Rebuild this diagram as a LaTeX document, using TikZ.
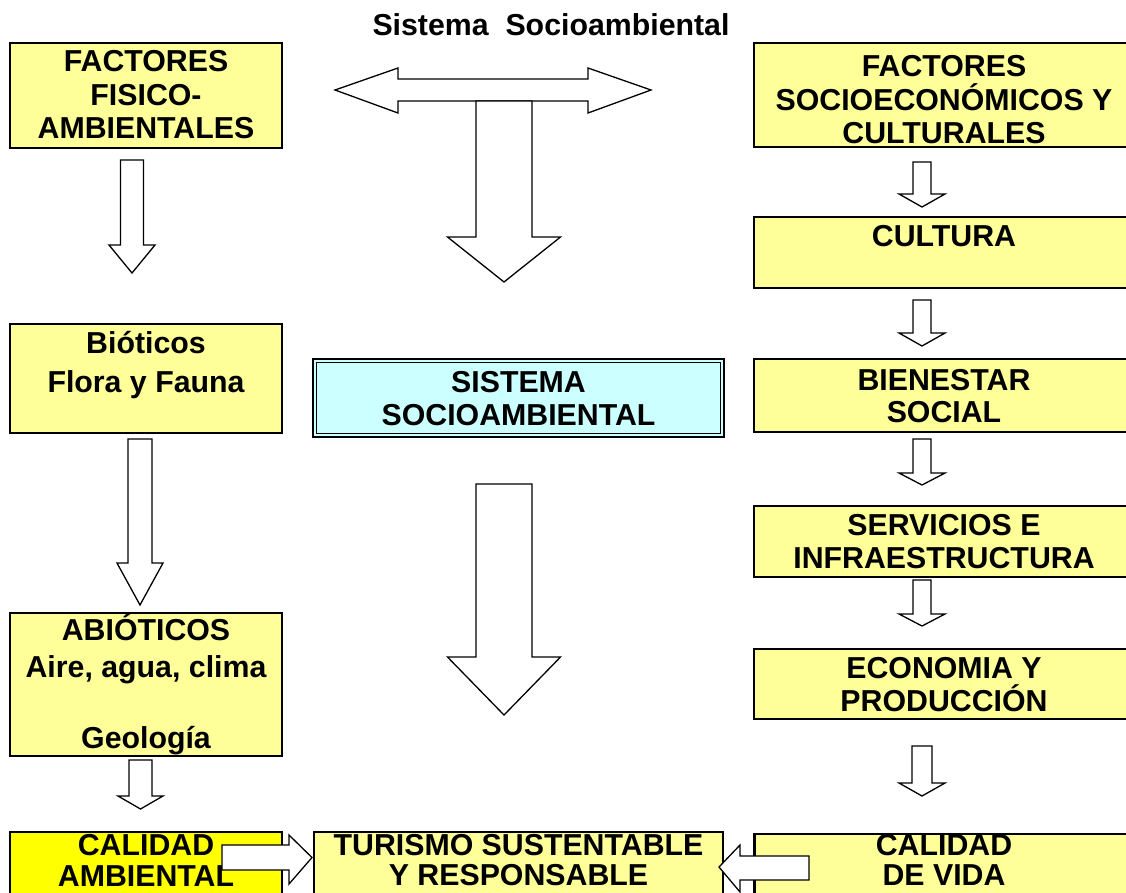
\documentclass[tikz,border=0pt]{standalone}
\usepackage{fontspec}
\setmainfont{Liberation Sans}
\definecolor{ylw}{HTML}{FFFF99}
\definecolor{brightylw}{HTML}{FFFF00}
\definecolor{lcyan}{HTML}{CCFFFF}
\tikzset{
  box/.style={draw, line width=2.6pt, fill=ylw, inner sep=0pt, outer sep=0pt},
  txt/.style={font=\bfseries\fontsize{30.3}{34}\selectfont, anchor=base, inner sep=0pt},
  arr/.style={draw, line width=1.3pt, fill=white, line join=miter},
}
% center x, shaft half width, head half width, top y, head base y, tip y
\newcommand\blockdown[6]{%
  \draw[arr] (#1-#2,#4) -- (#1+#2,#4) -- (#1+#2,#5) -- (#1+#3,#5) -- (#1,#6)
    -- (#1-#3,#5) -- (#1-#2,#5) -- cycle;}
\begin{document}
\begin{tikzpicture}[x=1pt,y=-1pt]
\useasboundingbox (0,0) rectangle (1126,892);
\clip (0,0) rectangle (1126,892);

% title
\node[txt] (title) at (551,35) {Sistema\ \ Socioambiental};

% boxes
\node[box, minimum width=272pt, minimum height=105pt] (fis) at (146,95.5) {};
\node[box, minimum width=380pt, minimum height=104pt] (soc) at (944,95) {};
\node[box, minimum width=380pt, minimum height=71pt] (cul) at (944,252.5) {};
\node[box, minimum width=272pt, minimum height=109pt] (bio) at (146,378.5) {};
\node[draw, line width=2.6pt, fill=lcyan, minimum width=411pt, minimum height=78pt, inner sep=0pt] (sis) at (518.5,398) {};
\draw[line width=0.8pt] ([shift={(4.5,4.5)}]sis.north west) rectangle ([shift={(-4.5,-4.5)}]sis.south east);
\node[box, minimum width=380pt, minimum height=73pt] (bie) at (944,395.5) {};
\node[box, minimum width=380pt, minimum height=71pt] (ser) at (944,541.5) {};
\node[box, minimum width=380pt, minimum height=70pt] (eco) at (944,684) {};
\node[box, minimum width=272pt, minimum height=143pt] (abi) at (146,684.5) {};
\node[box, fill=brightylw, minimum width=272pt, minimum height=98pt] (cam) at (146,881) {};
\node[box, minimum width=409pt, minimum height=98pt] (tur) at (518.5,881) {};
\node[box, minimum width=380pt, minimum height=96pt] (cdv) at (944.5,882) {};

% T-shaped double arrow
\draw[arr] (335,90) -- (398,68) -- (398,79) -- (588,79) -- (588,68) -- (651,90)
  -- (588,113) -- (588,101) -- (398,101) -- (398,113) -- cycle;
\blockdown{504}{28}{56.5}{101}{237}{282}

% central big arrow
\blockdown{504}{28}{56.5}{484}{657}{715}

% left column arrows
\blockdown{132}{11.5}{23}{160}{245}{273}
\blockdown{140}{12}{23}{439}{563}{605}
\blockdown{140.5}{11.5}{22.5}{760}{796}{809}

% right column arrows
\blockdown{922}{9}{23}{162}{194}{207}
\blockdown{922}{9}{23}{300}{333}{346}
\blockdown{922}{9}{23}{439}{473}{485}
\blockdown{922}{9}{23}{580}{614}{626}
\blockdown{922}{10}{23}{746}{783}{796}

% horizontal arrows into TURISMO
\draw[arr] (222,845) -- (289,845) -- (289,835) -- (312,857.5) -- (289,884)
  -- (289,870) -- (222,870) -- cycle;
\draw[arr] (809,856) -- (740,856) -- (740,845) -- (719,867) -- (740,892)
  -- (740,880) -- (809,880) -- cycle;

% texts
\node[txt] (fis1) at (146,71) {FACTORES};
\node[txt] (fis2) at (146,105) {FISICO-};
\node[txt] (fis3) at (146,138) {AMBIENTALES};
\node[txt] (soc1) at (944,76) {FACTORES};
\node[txt] (soc2) at (944,110) {SOCIOECONÓMICOS Y};
\node[txt] (soc3) at (944,143) {CULTURALES};
\node[txt] (cul1) at (944,246) {CULTURA};
\node[txt] (bio1) at (146,353) {Bióticos};
\node[txt] (bio2) at (146,392) {Flora y Fauna};
\node[txt] (sis1) at (518.5,392) {SISTEMA};
\node[txt] (sis2) at (518.5,425) {SOCIOAMBIENTAL};
\node[txt] (bie1) at (944,390) {BIENESTAR};
\node[txt] (bie2) at (944,422) {SOCIAL};
\node[txt] (ser1) at (944,535) {SERVICIOS E};
\node[txt] (ser2) at (944,568) {INFRAESTRUCTURA};
\node[txt] (eco1) at (944,678) {ECONOMIA Y};
\node[txt] (eco2) at (944,711) {PRODUCCIÓN};
\node[txt] (abi1) at (146,640) {ABIÓTICOS};
\node[txt] (abi2) at (146,677) {Aire, agua, clima};
\node[txt] (abi3) at (146,748) {Geología};
\node[txt] (cam1) at (146,855) {CALIDAD};
\node[txt] (cam2) at (146,886) {AMBIENTAL};
\node[txt] (tur1) at (518.5,855) {TURISMO SUSTENTABLE};
\node[txt] (tur2) at (518.5,885) {Y RESPONSABLE};
\node[txt] (cdv1) at (944,855) {CALIDAD};
\node[txt] (cdv2) at (944,885) {DE VIDA};
\end{tikzpicture}
\end{document}
